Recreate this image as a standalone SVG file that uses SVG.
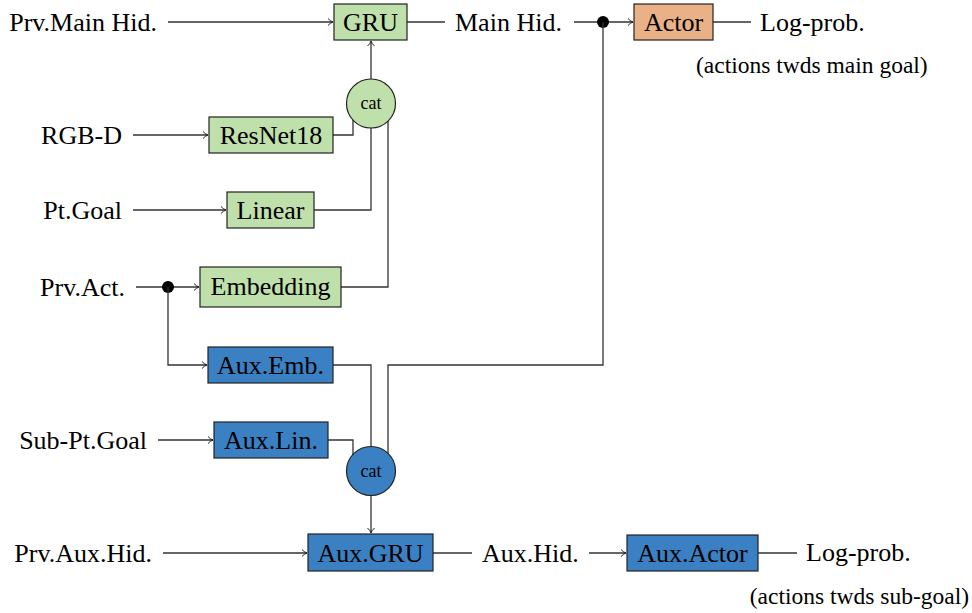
<svg xmlns="http://www.w3.org/2000/svg" width="972" height="613" viewBox="0 0 972 613">
<style>
text{font-family:"Liberation Serif","Times New Roman",serif;fill:#000}
.t{font-size:26px}
.s{font-size:23.5px}
.c{font-size:18px}
.m{text-anchor:middle}
.e{text-anchor:end}
.box{stroke:#222;stroke-width:1.2}
.g{fill:#bfdfab}
.o{fill:#e9b185}
.b{fill:#3a80c3}
.ln{fill:none;stroke:#333;stroke-width:1.3}
</style>
<defs>
<marker id="ar" markerWidth="8" markerHeight="10" refX="6" refY="4" orient="auto" markerUnits="userSpaceOnUse">
<path d="M1,0.5 Q3,3 6,4 Q3,5 1,7.5" fill="none" stroke="#222" stroke-width="1"/>
</marker>
</defs>
<g id="connectors">
<path class="ln" d="M168,22 H333" marker-end="url(#ar)"/>
<path class="ln" d="M407,22 H445"/>
<path class="ln" d="M574,22 H633" marker-end="url(#ar)"/>
<circle cx="603" cy="22" r="6" fill="#000"/>
<path class="ln" d="M713,22 H751"/>
<path class="ln" d="M603,22 V365 H388 V453"/>
<path class="ln" d="M371,79 V41" marker-end="url(#ar)"/>
<path class="ln" d="M133,135 H208" marker-end="url(#ar)"/>
<path class="ln" d="M333,135 H353 V120"/>
<path class="ln" d="M133,210 H226" marker-end="url(#ar)"/>
<path class="ln" d="M314,210 H371 V128"/>
<path class="ln" d="M341,287 H388 V121"/>
<path class="ln" d="M136,287 H199" marker-end="url(#ar)"/>
<circle cx="168" cy="287" r="6" fill="#000"/>
<path class="ln" d="M168,287 V365 H207" marker-end="url(#ar)"/>
<path class="ln" d="M333,365 H371 V446.5"/>
<path class="ln" d="M158,440 H213" marker-end="url(#ar)"/>
<path class="ln" d="M328,440 H353 V455"/>
<path class="ln" d="M371,495.5 V533" marker-end="url(#ar)"/>
<path class="ln" d="M163,553 H307" marker-end="url(#ar)"/>
<path class="ln" d="M433,553 H472"/>
<path class="ln" d="M589,553 H626" marker-end="url(#ar)"/>
<path class="ln" d="M758,553 H797"/>
</g>
<g id="labels">
<text class="t e" x="157" y="31">Prv.Main Hid.</text>
<text class="t" x="455" y="31">Main Hid.</text>
<text class="t" x="760" y="31">Log-prob.</text>
<text class="s" x="696" y="73">(actions twds main goal)</text>
<text class="t e" x="122" y="144">RGB-D</text>
<text class="t e" x="122" y="219">Pt.Goal</text>
<text class="t e" x="125" y="296">Prv.Act.</text>
<text class="t e" x="147" y="449">Sub-Pt.Goal</text>
<text class="t e" x="152" y="562">Prv.Aux.Hid.</text>
<text class="t" x="482" y="562">Aux.Hid.</text>
<text class="t" x="806" y="561">Log-prob.</text>
<text class="s e" x="969" y="604">(actions twds sub-goal)</text>
</g>
<g id="gru">
<rect class="box g" x="334" y="4" width="73" height="36"/>
<text class="t m" x="370.5" y="31">GRU</text>
</g>
<g id="actor">
<rect class="box o" x="634" y="4" width="79" height="36"/>
<text class="t m" x="673.5" y="31">Actor</text>
</g>
<g id="cat-top">
<circle class="box g" cx="371" cy="103.5" r="24.5"/>
<text class="c m" x="371" y="109">cat</text>
</g>
<g id="resnet18">
<rect class="box g" x="209" y="117" width="124" height="36"/>
<text class="t m" x="271" y="144">ResNet18</text>
</g>
<g id="linear">
<rect class="box g" x="227" y="192" width="87" height="36"/>
<text class="t m" x="270.5" y="219">Linear</text>
</g>
<g id="embedding">
<rect class="box g" x="200" y="267" width="141" height="40"/>
<text class="t m" x="270.5" y="295">Embedding</text>
</g>
<g id="aux-emb">
<rect class="box b" x="208" y="347" width="125" height="36"/>
<text class="t m" x="270.5" y="374">Aux.Emb.</text>
</g>
<g id="aux-lin">
<rect class="box b" x="214" y="422" width="114" height="36"/>
<text class="t m" x="271" y="449">Aux.Lin.</text>
</g>
<g id="cat-bottom">
<circle class="box b" cx="371" cy="471" r="24.5"/>
<text class="c m" x="371" y="477">cat</text>
</g>
<g id="aux-gru">
<rect class="box b" x="308" y="534" width="125" height="37"/>
<text class="t m" x="370.5" y="562">Aux.GRU</text>
</g>
<g id="aux-actor">
<rect class="box b" x="627" y="535" width="131" height="36"/>
<text class="t m" x="692.5" y="562">Aux.Actor</text>
</g>
</svg>
